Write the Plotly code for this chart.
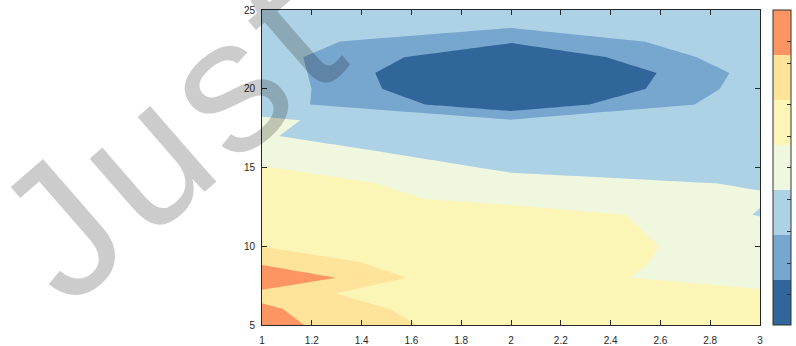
import math
import plotly.graph_objects as go

# ---- data ----
x_vals = [1, 2, 3]
y_vals = list(range(5, 26))
z_x1 = [6.53, 6.40, 6.00, 7.05, 6.07, 5.48, 5.30, 5.15, 5.02, 4.57, 4.05,
        3.54, 3.06, 3.17, 2.42, 2.70, 2.67, 2.41, 2.40, 2.50, 2.60]
z_x2 = [4.87, 4.65, 4.32, 4.37, 4.63, 4.73, 4.58, 4.90, 3.45, 3.33, 2.84,
        2.41, 2.20, 2.06, 0.25, -0.82, -1.00, -0.06, 1.12, 2.14, 2.50]
z_x3 = [4.35, 4.30, 4.16, 3.60, 3.50, 3.50, 3.48, 2.94, 3.08, 2.93, 2.60,
        2.50, 2.50, 2.55, 2.62, 2.54, 2.42, 2.70, 2.76, 2.60, 2.70]
levels = [1, 2, 3, 4, 5.5, 6.25]
level_step = 0.25
band_colors = ['#31669A', '#77A6CF', '#AED2E5', '#F0F7DF',
               '#FBF6B5', '#FEE39A', '#FD9563']
x_ticks = [1, 1.2, 1.4, 1.6, 1.8, 2, 2.2, 2.4, 2.6, 2.8, 3]
x_tick_labels = ['1', '1.2', '1.4', '1.6', '1.8', '2', '2.2', '2.4', '2.6', '2.8', '3']
y_ticks = [5, 10, 15, 20, 25]
y_tick_labels = ['5', '10', '15', '20', '25']
cbar_ticks = [0.67, 1.37, 2.07, 2.78, 3.5, 4.2, 4.9, 5.82, 6.3]
watermark = 'Just'

z = [[a, b, c] for a, b, c in zip(z_x1, z_x2, z_x3)]

# discrete colorscale for the fine, uniform contour levels
start, end = levels[0], levels[-1]
nc = int(round((end - start) / level_step)) + 1
def frac(v):
    return ((v - start) / level_step + 0.5) / nc
edges = [0.0] + [frac(L) for L in levels] + [1.0]
cscale = []
for i, col in enumerate(band_colors):
    cscale.append([edges[i], col])
    cscale.append([edges[i + 1], col])

# uniform colorbar scale
nb = len(band_colors)
cb_scale = []
for i, col in enumerate(band_colors):
    cb_scale.append([i / nb, col])
    cb_scale.append([(i + 1) / nb, col])

W, H = 796, 346
ml, mr, mt, mb = 262, 36, 10, 21
pw = W - ml - mr
ph = H - mt - mb

fig = go.Figure()
fig.add_trace(go.Contour(
    x=x_vals, y=y_vals, z=z,
    autocontour=False,
    contours=dict(start=start, end=end, size=level_step, coloring='fill'),
    colorscale=cscale,
    line=dict(width=0, smoothing=0),
    showscale=False,
    hoverinfo='skip',
))
fig.add_trace(go.Scatter(
    x=[x_vals[0]], y=[y_vals[0]], mode='markers',
    marker=dict(size=1, opacity=0, color=[0], cmin=0, cmax=nb,
                colorscale=cb_scale, showscale=True,
                colorbar=dict(
                    x=(773.5 - ml) / pw, xanchor='left', xpad=0,
                    y=0.5, yanchor='middle', ypad=0,
                    len=1, lenmode='fraction',
                    thickness=18, thicknessmode='pixels',
                    outlinewidth=1, outlinecolor='#333333',
                    ticks='inside', ticklen=4, tickcolor='#333333',
                    tickvals=cbar_ticks, showticklabels=False,
                )),
    hoverinfo='skip', showlegend=False,
))

# watermark, one glyph per annotation along a rotated baseline
wm_size = 190
wm_angle = 41
wm_track = 0.05
adv = {'J': 0.5, 'u': 0.556, 's': 0.5, 't': 0.278}
u_center = (143.0, 158.0)
d = (math.cos(math.radians(wm_angle)), -math.sin(math.radians(wm_angle)))
centers = []
pos = 0.0
for i, ch in enumerate(watermark):
    centers.append(pos + adv[ch] / 2 + wm_track * i)
    pos += adv[ch]
ref = centers[1]
annots = []
for ch, c in zip(watermark, centers):
    off = (c - ref) * wm_size
    px = u_center[0] + off * d[0]
    py = u_center[1] + off * d[1]
    annots.append(dict(
        text=ch, xref='paper', yref='paper',
        x=(px - ml) / pw, y=(H - mb - py) / ph,
        xanchor='center', yanchor='middle', showarrow=False,
        textangle=-wm_angle,
        font=dict(family='Liberation Sans, Arial, sans-serif', size=wm_size,
                  color='rgba(0,0,0,0.2)'),
    ))

axis_common = dict(
    ticks='inside', ticklen=5, tickcolor='#262626', tickwidth=1,
    showline=True, linecolor='#262626', linewidth=1, mirror='ticks',
    showgrid=False, zeroline=False,
    tickfont=dict(family='Liberation Sans, Arial, sans-serif', size=10, color='#262626'),
)
fig.update_layout(
    width=W, height=H,
    margin=dict(l=ml, r=mr, t=mt, b=mb, pad=0, autoexpand=False),
    paper_bgcolor='white', plot_bgcolor='white',
    xaxis=dict(range=[1, 3], tickvals=x_ticks, ticktext=x_tick_labels,
               ticklabelstandoff=6, **axis_common),
    yaxis=dict(range=[5, 25], tickvals=y_ticks, ticktext=y_tick_labels,
               ticklabelstandoff=4, **axis_common),
    showlegend=False,
    annotations=annots,
)

fig.write_html('out.html',
               config={'displayModeBar': False},
               post_script="document.body.style.margin='0';"
                           "document.body.style.overflow='hidden';")
